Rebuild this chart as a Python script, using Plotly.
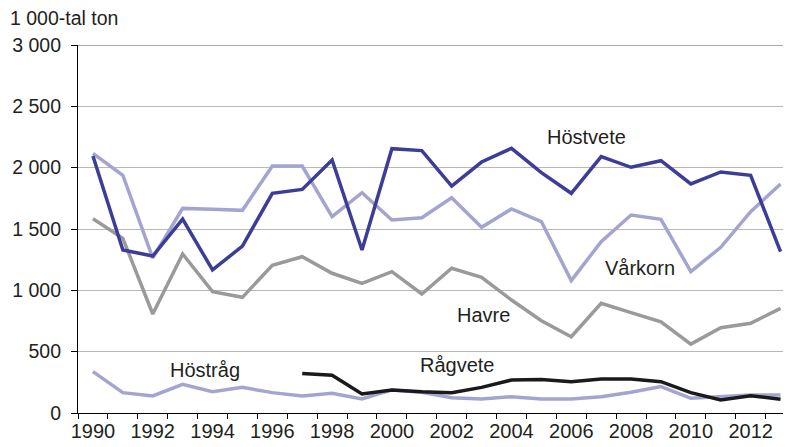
import plotly.graph_objects as go

years = list(range(1990, 2014))

hostvete = [2095, 1329, 1280, 1581, 1166, 1361, 1791, 1823, 2062, 1329, 2155, 2139,
            1850, 2046, 2158, 1959, 1791, 2090, 2003, 2057, 1867, 1965, 1938, 1315]
varkorn = [2117, 1938, 1264, 1668, 1660, 1652, 2013, 2013, 1600, 1796, 1573, 1592,
           1755, 1514, 1663, 1560, 1079, 1397, 1614, 1579, 1152, 1351, 1641, 1867]
havre = [1584, 1424, 807, 1296, 989, 943, 1204, 1274, 1139, 1057, 1152, 970,
         1180, 1106, 921, 752, 622, 894, 818, 744, 562, 695, 731, 853]
hostrag = [337, 166, 139, 234, 174, 209, 166, 139, 160, 114, 188, 169,
           125, 114, 133, 114, 114, 133, 169, 215, 120, 133, 147, 147]
ragvete_years = list(range(1997, 2014))
ragvete = [323, 307, 155, 188, 174, 166, 209, 269, 274, 255, 277, 277,
           255, 166, 106, 141, 112]

y_ticks = [0, 500, 1000, 1500, 2000, 2500, 3000]
y_text = ["0", "500", "1 000", "1 500", "2 000", "2 500", "3 000"]
x_ticks = list(range(1990, 2013, 2))

DARK = "#3d3d99"
LIGHT = "#a3a5d0"
GREY = "#9a9a9a"
BLACK = "#1a1a1a"
TXT = "#231f20"
FONT = "Liberation Sans, Arial, sans-serif"

fig = go.Figure()
for x, y, c in [(years, hostrag, LIGHT), (years, havre, GREY), (years, varkorn, LIGHT),
                (ragvete_years, ragvete, BLACK), (years, hostvete, DARK)]:
    fig.add_trace(go.Scatter(x=x, y=y, mode="lines",
                             line=dict(color=c, width=3.5), hoverinfo="skip"))

labels = [("Höstvete", 2006.5, 2250), ("Vårkorn", 2008.3, 1182), ("Havre", 2003.05, 799),
          ("Höstråg", 1993.75, 350), ("Rågvete", 2002.2, 391)]
for t, x, y in labels:
    fig.add_annotation(x=x, y=y, text=t, showarrow=False,
                       font=dict(size=20, color=TXT, family=FONT))

# unit title above the y axis (page body has an 8px margin, figure is offset by it)
fig.add_annotation(x=-70 / 713, y=1 + 27 / 368, xref="paper", yref="paper",
                   text="1 000-tal ton", showarrow=False, xanchor="left",
                   yanchor="middle", font=dict(size=19.5, color=TXT, family=FONT))

fig.add_shape(type="line", xref="paper", yref="y", x0=0, x1=1, y0=3000, y1=3000,
              line=dict(color="#555", width=1.2), layer="below")

fig.update_xaxes(range=[1989.5, 2013.35], tickmode="array", tickvals=x_ticks,
                 ticks="", showgrid=False, zeroline=False, showline=True,
                 linecolor="black", linewidth=1.2, automargin=False,
                 tickfont=dict(size=20, color=TXT, family=FONT),
                 minor=dict(ticks="outside", ticklen=5, tickcolor="black",
                            tick0=1989.5, dtick=1, showgrid=False))
fig.update_yaxes(range=[0, 3000], tickmode="array", tickvals=y_ticks, ticktext=y_text,
                 ticks="outside", ticklen=6, tickcolor="black", showline=True,
                 linecolor="black", linewidth=1.2, gridcolor="#b8b8b8", gridwidth=1.2,
                 zeroline=False, ticklabelstandoff=6, automargin=False,
                 tickfont=dict(size=19.5, color=TXT, family=FONT))

fig.update_layout(width=783, height=439, showlegend=False,
                  margin=dict(l=70, r=0, t=37, b=34),
                  plot_bgcolor="white", paper_bgcolor="white")

fig.write_html("out.html")
